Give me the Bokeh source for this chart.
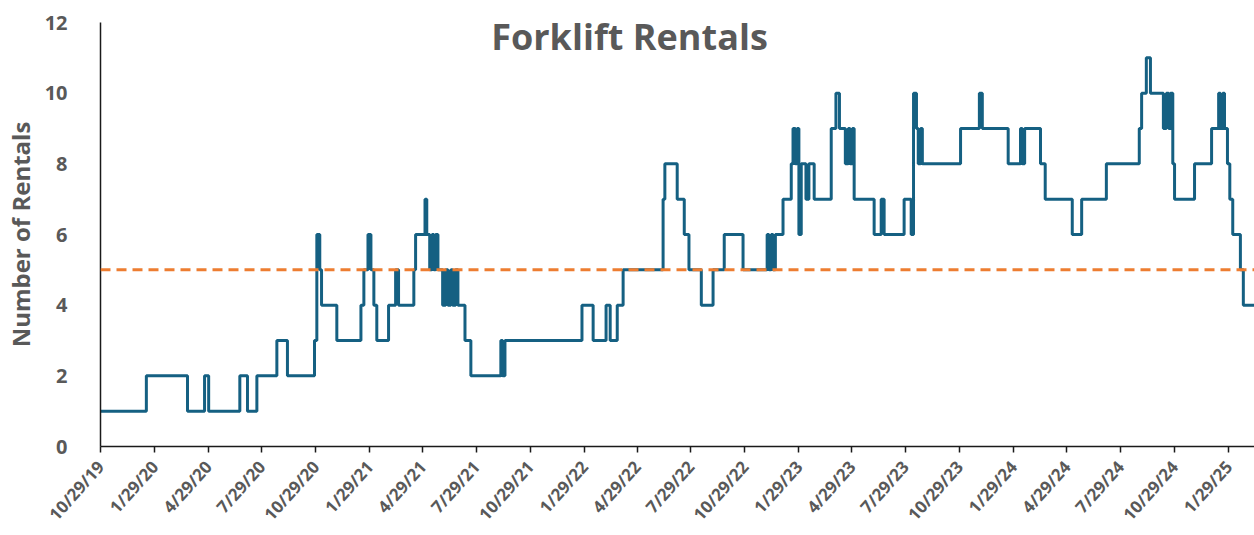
from datetime import datetime
import math
import pandas as pd
from bokeh.plotting import figure
from bokeh.models import Range1d, FixedTicker, CustomJSTickFormatter, Span, Label
from bokeh.embed import file_html
from bokeh.resources import INLINE

# ---- data ----
change_dates = [
    "2019-10-29", "2020-01-15", "2020-03-25", "2020-04-23", "2020-04-30", "2020-06-22",
    "2020-07-05", "2020-07-21", "2020-08-24", "2020-09-11", "2020-10-27", "2020-10-31",
    "2020-11-05", "2020-11-08", "2020-12-04", "2021-01-14", "2021-01-19", "2021-01-26",
    "2021-01-31", "2021-02-05", "2021-02-10", "2021-03-02", "2021-03-14", "2021-03-19",
    "2021-04-14", "2021-04-17", "2021-05-03", "2021-05-06", "2021-05-11", "2021-05-15",
    "2021-05-18", "2021-05-21", "2021-05-25", "2021-06-02", "2021-06-07", "2021-06-11",
    "2021-06-16", "2021-06-19", "2021-06-24", "2021-06-28", "2021-07-10", "2021-07-20",
    "2021-09-09", "2021-09-12", "2021-09-16", "2022-01-25", "2022-02-13", "2022-03-07",
    "2022-03-14", "2022-03-26", "2022-04-05", "2022-06-12", "2022-06-15", "2022-07-06",
    "2022-07-18", "2022-07-26", "2022-08-16", "2022-09-05", "2022-09-24", "2022-10-26",
    "2022-12-06", "2022-12-09", "2022-12-13", "2022-12-16", "2022-12-20", "2023-01-02",
    "2023-01-16", "2023-01-19", "2023-01-23", "2023-01-26", "2023-01-29", "2023-02-02",
    "2023-02-10", "2023-02-15", "2023-02-24", "2023-03-25", "2023-04-02", "2023-04-08",
    "2023-04-18", "2023-04-23", "2023-04-26", "2023-04-30", "2023-05-03", "2023-06-06",
    "2023-06-18", "2023-06-23", "2023-07-27", "2023-08-08", "2023-08-12", "2023-08-17",
    "2023-08-20", "2023-08-24", "2023-08-27", "2023-10-31", "2023-12-02", "2023-12-07",
    "2024-01-20", "2024-02-10", "2024-02-13", "2024-02-17", "2024-03-15", "2024-03-23",
    "2024-05-08", "2024-05-24", "2024-07-05", "2024-08-30", "2024-09-03", "2024-09-11",
    "2024-09-18", "2024-10-10", "2024-10-15", "2024-10-19", "2024-10-22", "2024-10-26",
    "2024-10-29", "2024-12-02", "2024-12-31", "2025-01-12", "2025-01-15", "2025-01-19",
    "2025-01-22", "2025-01-27", "2025-01-31", "2025-02-05", "2025-02-18", "2025-02-23",
    "2025-03-14",
]
rentals = [
    1, 2, 1, 2, 1, 2,
    1, 2, 3, 2, 3, 6,
    5, 4, 3, 4, 5, 6,
    5, 4, 3, 4, 5, 4,
    5, 6, 7, 6, 5, 6,
    5, 6, 5, 4, 5, 4,
    5, 4, 5, 4, 3, 2,
    3, 2, 3, 4, 3, 4,
    3, 4, 5, 7, 8, 7,
    6, 5, 4, 5, 6, 5,
    6, 5, 6, 5, 6, 7,
    8, 9, 8, 9, 6, 8,
    7, 8, 7, 9, 10, 9,
    8, 9, 8, 9, 7, 6,
    7, 6, 7, 6, 10, 9,
    8, 9, 8, 9, 10, 9,
    8, 9, 8, 9, 8, 7,
    6, 7, 8, 9, 10, 11,
    10, 9, 10, 9, 10, 8,
    7, 8, 9, 10, 9, 10,
    9, 8, 7, 6, 5, 4,
    4,
]
target_level = 5
x_tick_labels = [
    "10/29/19", "1/29/20", "4/29/20", "7/29/20", "10/29/20", "1/29/21", "4/29/21",
    "7/29/21", "10/29/21", "1/29/22", "4/29/22", "7/29/22", "10/29/22", "1/29/23",
    "4/29/23", "7/29/23", "10/29/23", "1/29/24", "4/29/24", "7/29/24", "10/29/24",
    "1/29/25",
]
y_ticks = [0, 2, 4, 6, 8, 10, 12]
title_text = "Forklift Rentals"
y_label = "Number of Rentals"

# ---- styling ----
FONT = "Open Sans"
GREY = "#595959"
LINE_COLOR = "#156082"
ORANGE = "#ED7D31"

x = pd.to_datetime(change_dates)
epoch = datetime(1970, 1, 1)
tick_ms = [(datetime.strptime(s, "%m/%d/%y") - epoch).total_seconds() * 1000.0
           for s in x_tick_labels]

p = figure(
    x_axis_type="datetime",
    width=1254, height=535,
    min_border_left=100, min_border_right=0, min_border_top=22, min_border_bottom=88,
    output_backend="svg", toolbar_location=None,
    x_range=Range1d(datetime(2019, 10, 29), datetime(2025, 3, 14)),
    y_range=Range1d(0, 12),
)
p.outline_line_color = None
p.xgrid.visible = False
p.ygrid.visible = False
p.background_fill_color = "white"
p.border_fill_color = "white"

p.step(x=x, y=rentals, mode="after", line_color=LINE_COLOR, line_width=3)

p.add_layout(Span(location=target_level, dimension="width", line_color=ORANGE,
                  line_width=3, line_dash="10 6"))

# x axis
xa = p.xaxis[0]
xa.ticker = FixedTicker(ticks=tick_ms)
xa.formatter = CustomJSTickFormatter(code="""
    const d = new Date(tick);
    return (d.getUTCMonth() + 1) + "/" + d.getUTCDate() + "/" + String(d.getUTCFullYear()).slice(2);
""")
xa.major_label_orientation = math.radians(48)
xa.major_label_text_font = FONT
xa.major_label_text_font_size = "17px"
xa.major_label_text_font_style = "bold"
xa.major_label_text_color = GREY
xa.major_label_standoff = 11
xa.axis_line_color = "#1a1a1a"
xa.axis_line_width = 1.5
xa.major_tick_line_color = "#1a1a1a"
xa.major_tick_line_width = 1.5
xa.major_tick_out = 6
xa.major_tick_in = 0
xa.minor_tick_line_color = None

# y axis
ya = p.yaxis[0]
ya.ticker = FixedTicker(ticks=y_ticks)
ya.major_label_text_font = FONT
ya.major_label_text_font_size = "20px"
ya.major_label_text_font_style = "bold"
ya.major_label_text_color = GREY
ya.major_label_standoff = 27
ya.major_tick_line_color = None
ya.minor_tick_line_color = None
ya.axis_line_color = "#1a1a1a"
ya.axis_line_width = 1.5
ya.axis_label = y_label
ya.axis_label_text_font = FONT
ya.axis_label_text_font_size = "24px"
ya.axis_label_text_font_style = "bold"
ya.axis_label_text_color = GREY
ya.axis_label_standoff = 5

p.add_layout(Label(x=529, y=410, x_units="screen", y_units="screen", text=title_text,
                   text_font=FONT, text_font_size="36px", text_font_style="bold",
                   text_color=GREY, text_align="center", text_baseline="middle"))

open("out.html", "w").write(file_html(p, INLINE))
